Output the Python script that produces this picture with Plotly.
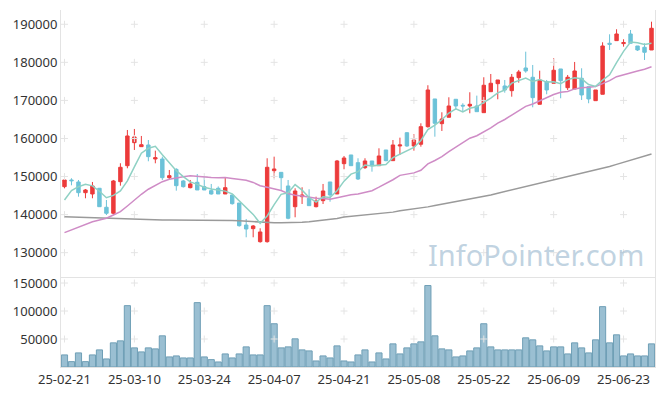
import pandas as pd
import plotly.graph_objects as go

dates = [
    "25-02-21", "25-02-24", "25-02-25", "25-02-26", "25-02-27", "25-02-28",
    "25-03-04", "25-03-05", "25-03-06", "25-03-07", "25-03-10", "25-03-11",
    "25-03-12", "25-03-13", "25-03-14", "25-03-17", "25-03-18", "25-03-19",
    "25-03-20", "25-03-21", "25-03-24", "25-03-25", "25-03-26", "25-03-27",
    "25-03-28", "25-03-31", "25-04-01", "25-04-02", "25-04-03", "25-04-04",
    "25-04-07", "25-04-08", "25-04-09", "25-04-10", "25-04-11", "25-04-14",
    "25-04-15", "25-04-16", "25-04-17", "25-04-18", "25-04-21", "25-04-22",
    "25-04-23", "25-04-24", "25-04-25", "25-04-28", "25-04-29", "25-04-30",
    "25-05-02", "25-05-07", "25-05-08", "25-05-09", "25-05-12", "25-05-13",
    "25-05-14", "25-05-15", "25-05-16", "25-05-19", "25-05-20", "25-05-21",
    "25-05-22", "25-05-23", "25-05-26", "25-05-27", "25-05-28", "25-05-29",
    "25-05-30", "25-06-02", "25-06-04", "25-06-05", "25-06-09", "25-06-10",
    "25-06-11", "25-06-12", "25-06-13", "25-06-16", "25-06-17", "25-06-18",
    "25-06-19", "25-06-20", "25-06-23", "25-06-24", "25-06-25", "25-06-26",
    "25-06-27",
]

opens = [147340, 149100, 148570, 145760, 145420, 146920, 141930, 140350, 148650, 152850,
         158900, 157850, 158290, 154610, 154610, 149700, 151890, 148840, 147080, 148490,
         147340, 146290, 146920, 145420, 145160, 143050, 137270, 136310, 132890, 132890,
         151540, 151100, 147520, 142080, 144710, 144290, 142080, 143660, 148570, 145420,
         153380, 155670, 153640, 152330, 154090, 152850, 156980, 154170, 158030, 161520,
         158030, 158480, 163100, 170380, 163890, 165570, 170300, 168720, 168540, 168540,
         166780, 172290, 174400, 173790, 172560, 175970, 178520, 176080, 168980, 174920,
         174500, 178260, 173340, 173000, 175810, 173600, 169930, 171610, 185010, 185700,
         184920, 187450, 184300, 183960, 183250]
highs = [149360, 149550, 149100, 146730, 148570, 147000, 143840, 149100, 153490, 162230,
         162500, 160660, 159600, 156800, 155220, 151720, 152170, 149100, 149100, 150670,
         149960, 148050, 147400, 149700, 145160, 143050, 138850, 137270, 136410, 154800,
         155220, 151100, 149100, 146920, 147180, 146660, 144710, 148050, 148570, 154350,
         155400, 155670, 154800, 154800, 154090, 157420, 156980, 159600, 160210, 161600,
         161100, 163990, 173980, 170380, 166880, 170820, 170300, 169250, 172140, 171260,
         176080, 176940, 175370, 175370, 176940, 178000, 182800, 179310, 177810, 175370,
         181070, 178260, 176680, 180100, 178440, 173600, 172740, 185270, 187370, 188690,
         186060, 188500, 184300, 185010, 190680]
lows = [146900, 147700, 144710, 144290, 144290, 142000, 139900, 140000, 147600, 152170,
        156980, 157800, 154010, 153480, 149100, 149100, 146290, 147100, 146900, 146470,
        146470, 145250, 145420, 145420, 142610, 136830, 134040, 134040, 132630, 132630,
        149550, 146470, 138770, 139300, 142790, 142350, 141900, 142790, 143390, 145420,
        151910, 152850, 149100, 152000, 151280, 152850, 154000, 154170, 155670, 157800,
        156800, 157850, 162840, 160470, 161970, 165570, 167490, 167040, 166620, 167040,
        166780, 172290, 170300, 172030, 170980, 174660, 177270, 168190, 168980, 171610,
        174500, 170560, 172740, 173000, 170110, 169250, 169930, 171610, 183250, 185700,
        184120, 185010, 182990, 180620, 183250]
closes = [149100, 148900, 145760, 146470, 147520, 142080, 140350, 148840, 152430, 160660,
          160400, 158370, 155220, 154960, 149700, 150230, 147600, 147340, 148050, 146470,
          146470, 145420, 145420, 147080, 142870, 137090, 136220, 137010, 135440, 152430,
          151990, 149700, 139040, 146210, 145160, 142350, 143580, 146210, 145160, 154090,
          154870, 152850, 149360, 154090, 152850, 155400, 154170, 158290, 158290, 158030,
          159600, 163100, 172740, 163990, 165120, 168540, 168540, 168540, 168980, 167040,
          173980, 174500, 175370, 172740, 176080, 177470, 177730, 170720, 175370, 172740,
          177920, 175180, 176080, 177730, 171430, 170380, 172740, 184300, 184750, 187450,
          185180, 185010, 183250, 182640, 188950]
volumes = [21560, 9580, 25160, 9580, 21560, 30550, 14380, 43130, 46720, 109600,
           34140, 26960, 34140, 32350, 55710, 17970, 19770, 16170, 16170, 115000,
           17970, 13180, 8990, 23360, 16170, 23360, 35940, 21560, 21560, 109600,
           77270, 34140, 35940, 50320, 30550, 28750, 10780, 19770, 16170, 37740,
           10780, 8990, 21560, 30550, 8990, 25160, 14380, 41330, 23360, 34140,
           41330, 44930, 145560, 55710, 32350, 30550, 17970, 19770, 28750, 34140,
           77270, 35940, 30550, 30550, 30550, 30550, 52110, 48520, 37740, 28750,
           35940, 35940, 23360, 43130, 34140, 25160, 48520, 107820, 43130, 57500,
           19770, 23360, 19770, 19770, 41330]

# moving-average values before enough history is on the chart
ma5_head = [143840, 146290, 147340, 147970]
ma20_head = [135260, 135960, 136670, 137460, 138140, 138590, 139040, 139900, 140770, 142270,
             143840, 145340, 146660, 147700, 148650, 149280, 149700, 149960, 150230]
ma60 = [139460, 139400, 139330, 139260, 139190, 139120, 139050, 138980, 138900, 138800,
        138700, 138620, 138580, 138570, 138580, 138600, 138600, 138600, 138600, 138590,
        138580, 138570, 138540, 138500, 138440, 138360, 138260, 138120, 137980, 137900,
        137880, 137880, 137880, 137900, 137960, 138100, 138280, 138480, 138700, 139000,
        139350, 139550, 139700, 139850, 140000, 140180, 140350, 140650, 141040, 141250,
        141470, 141700, 142030, 142370, 142700, 143040, 143370, 143710, 144040, 144380,
        144710, 145150, 145600, 146040, 146480, 146930, 147370, 147820, 148260, 148700,
        149100, 149520, 149940, 150360, 150780, 151200, 151620, 152100, 152650, 153200,
        153740, 154290, 154840, 155380, 155930]

price_ticks = [130000, 140000, 150000, 160000, 170000, 180000, 190000]
vol_ticks = [50000, 100000, 150000]
x_ticks = dates[::10]

cs = pd.Series(closes, dtype=float)
ma5 = cs.rolling(5).mean().tolist()
ma5[:4] = ma5_head
ma20 = cs.rolling(20).mean().tolist()
ma20[:19] = ma20_head

RED = "#ec3b3b"
BLUE = "#6cc2d8"
FONT = "Noto Sans"

fig = go.Figure()

fig.add_trace(go.Bar(
    x=dates, y=volumes, xaxis="x", yaxis="y2",
    marker=dict(color="rgba(120,170,195,0.75)", line=dict(color="#6f9fb6", width=1)),
    showlegend=False))

# grid "+" markers
for ax_y, ticks in (("y", price_ticks), ("y2", vol_ticks)):
    gx, gy = [], []
    for t in ticks:
        for xt in x_ticks:
            gx.append(xt)
            gy.append(t)
    fig.add_trace(go.Scatter(
        x=gx, y=gy, mode="markers", xaxis="x", yaxis=ax_y,
        marker=dict(symbol="cross-thin", size=5, line=dict(color="#e4e4e4", width=1)),
        hoverinfo="skip", showlegend=False))

fig.add_trace(go.Scatter(x=dates, y=ma60, mode="lines", line=dict(color="#9a9a9a", width=1.5),
                         xaxis="x", yaxis="y", showlegend=False))
fig.add_trace(go.Scatter(x=dates, y=ma20, mode="lines", line=dict(color="#cf8cc6", width=1.5),
                         xaxis="x", yaxis="y", showlegend=False))
fig.add_trace(go.Scatter(x=dates, y=ma5, mode="lines", line=dict(color="#8fd1c4", width=1.5),
                         xaxis="x", yaxis="y", showlegend=False))

fig.add_trace(go.Candlestick(
    x=dates, open=opens, high=highs, low=lows, close=closes,
    xaxis="x", yaxis="y", whiskerwidth=0,
    increasing=dict(line=dict(color=RED, width=1), fillcolor=RED),
    decreasing=dict(line=dict(color=BLUE, width=1), fillcolor=BLUE),
    showlegend=False))

tickfont = dict(family=FONT, size=13, color="#333333")
fig.update_layout(
    width=665, height=396,
    margin=dict(l=61, r=10, t=10, b=29),
    paper_bgcolor="white", plot_bgcolor="white",
    bargap=0.12,
    showlegend=False,
    font=dict(family=FONT),
    xaxis=dict(type="category", categoryorder="array", categoryarray=dates,
               range=[-0.5, len(dates) - 0.5], rangeslider=dict(visible=False),
               tickmode="array", tickvals=x_ticks, ticktext=x_ticks, tickfont=tickfont,
               tickangle=0, automargin=False,
               showgrid=False, zeroline=False, showline=True, linecolor="#e3e3e3", mirror=True,
               ticks="", anchor="y2"),
    yaxis=dict(domain=[0.252, 1], range=[123600, 193750], tickvals=price_ticks,
               ticktext=[str(v) for v in price_ticks], automargin=False,
               tickfont=tickfont, showgrid=False, zeroline=False, showline=True,
               linecolor="#e3e3e3", mirror=True, ticks=""),
    yaxis2=dict(domain=[0, 0.249], range=[0, 158800], tickvals=vol_ticks,
                ticktext=[str(v) for v in vol_ticks], automargin=False,
                tickfont=tickfont, showgrid=False, zeroline=False, showline=True,
                linecolor="#e3e3e3", mirror=True, ticks=""),
    annotations=[dict(text="InfoPointer.com", xref="paper", yref="paper", x=0.80, y=0.314,
                      xanchor="center", yanchor="middle", showarrow=False,
                      font=dict(family=FONT, size=29, color="rgba(165,192,212,0.7)"))],
)

fig.write_html("out.html", config={"displayModeBar": False},
               post_script="document.body.style.margin='0';")
